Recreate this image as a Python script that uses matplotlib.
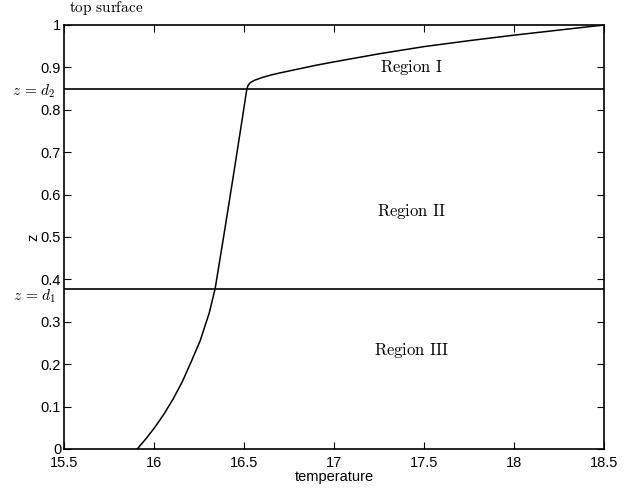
import matplotlib
matplotlib.use("Agg")
import matplotlib.pyplot as plt

# temperature profile
temperature = [15.907, 15.957, 16.007, 16.057, 16.107, 16.157, 16.207,
               16.257, 16.307, 16.34, 16.39, 16.44, 16.49, 16.515, 16.522,
               16.535, 16.555, 16.6, 16.65, 16.7, 16.8, 16.9, 17.0, 17.25,
               17.5, 17.75, 18.0, 18.25, 18.5]
depth = [0.0, 0.025, 0.0525, 0.0835, 0.1185, 0.1585, 0.206,
         0.256, 0.321, 0.379, 0.509, 0.642, 0.778, 0.847, 0.857,
         0.864, 0.869, 0.876, 0.882, 0.887, 0.896, 0.905, 0.913, 0.932,
         0.949, 0.963, 0.976, 0.988, 1.0]

# interface depths
d1 = 0.378
d2 = 0.848

region_names = ["Region I", "Region II", "Region III"]
region_z = [0.899, 0.559, 0.233]
region_x = 17.43

plt.rcParams["font.family"] = ["Liberation Sans", "DejaVu Sans"]
plt.rcParams["mathtext.fontset"] = "cm"

fig = plt.figure(figsize=(6.3, 4.9), dpi=100)
ax = fig.add_axes([0.1016, 0.0837, 0.8571, 0.8653])

ax.plot(temperature, depth, color="black", linewidth=1.1)
ax.axhline(d1, color="black", linewidth=1.2)
ax.axhline(d2, color="black", linewidth=1.2)

ax.set_xlim(15.5, 18.5)
ax.set_ylim(0, 1)
ax.set_xticks([15.5, 16, 16.5, 17, 17.5, 18, 18.5])
ax.set_xticklabels(["15.5", "16", "16.5", "17", "17.5", "18", "18.5"])
ax.set_yticks([0, 0.1, 0.2, 0.3, 0.4, 0.5, 0.6, 0.7, 0.8, 0.9, 1])
ax.set_yticklabels(["0", "0.1", "0.2", "0.3", "0.4", "0.5", "0.6", "0.7",
                    "0.8", "0.9", "1"])
ax.tick_params(direction="in", length=5, top=True, right=True,
               labelsize=10.5, pad=2)
ax.tick_params(axis="x", pad=5)
for s in ax.spines.values():
    s.set_linewidth(1.2)

ax.set_xlabel("temperature", fontsize=10.5, labelpad=0)
ax.set_ylabel("z", fontsize=10.5, labelpad=0)

for name, z in zip(region_names, region_z):
    ax.text(region_x, z, r"$\mathrm{" + name.replace(" ", r"\ ") + "}$",
            ha="center", va="center", fontsize=12)

ax.text(-0.015, d2 - 0.005, r"$z\,=\,d_2$", transform=ax.get_yaxis_transform(),
        ha="right", va="center", fontsize=11)
ax.text(-0.015, d1 - 0.018, r"$z\,=\,d_1$", transform=ax.get_yaxis_transform(),
        ha="right", va="center", fontsize=11)
ax.text(0.01, 1.02, r"$\mathrm{top\ surface}$", transform=ax.transAxes,
        ha="left", va="bottom", fontsize=11)

fig.savefig("out.png", dpi=100)
